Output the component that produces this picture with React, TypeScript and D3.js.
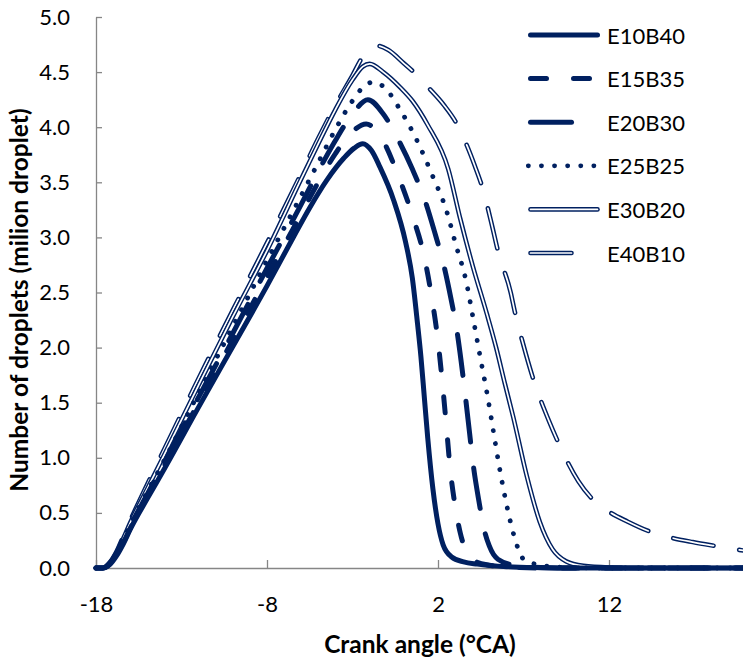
import React, { useEffect, useRef } from 'react';
import * as d3 from 'd3';

// crank angle ticks and droplet count ticks
const angleTicks = [-18, -8, 2, 12];
const dropletTicks = [0, 0.5, 1, 1.5, 2, 2.5, 3, 3.5, 4, 4.5, 5];
const seriesNames = ['E10B40', 'E15B35', 'E20B30', 'E25B25', 'E30B20', 'E40B10'];

// [crank angle, million droplets]
const e10b40: [number, number][] = [
  [-18, 0], [-17.6, 0], [-17.2, 0.03], [-16.8, 0.11], [-16.4, 0.22], [-16, 0.35], [-15, 0.63], [-14, 0.9],
  [-12, 1.46], [-10, 2.01], [-8, 2.56], [-6.5, 2.99], [-5.5, 3.27], [-4.5, 3.52], [-3.5, 3.72], [-2.9, 3.81],
  [-2.4, 3.85], [-1.9, 3.79], [-1.4, 3.64], [-0.6, 3.34], [0.1, 2.96], [0.5, 2.63], [0.8, 2.22], [1.0, 1.92],
  [1.2, 1.55], [1.4, 1.18], [1.7, 0.72], [2.0, 0.4], [2.3, 0.21], [2.8, 0.1], [3.5, 0.055], [4.3, 0.035],
  [6, 0.012], [8, 0.003], [10, 0], [20, 0],
];
const e15b35: [number, number][] = [
  [-18, 0], [-17.6, 0], [-17.2, 0.035], [-16.8, 0.12], [-16.4, 0.23], [-16, 0.36], [-15, 0.65], [-14, 0.93],
  [-12, 1.5], [-10, 2.07], [-8, 2.64], [-6.5, 3.07], [-5, 3.5], [-4, 3.76], [-3, 3.96], [-2.2, 4.03],
  [-1.3, 3.9], [-0.3, 3.55], [0.5, 3.2], [1.2, 2.82], [1.65, 2.44], [2.0, 2.06], [2.25, 1.69], [2.5, 1.27],
  [2.7, 0.92], [3.05, 0.52], [3.3, 0.32], [3.6, 0.17], [4.2, 0.06], [5, 0.025], [6, 0.01], [8, 0], [20, 0],
];
const e20b30: [number, number][] = [
  [-18, 0], [-17.6, 0], [-17.2, 0.04], [-16.8, 0.13], [-16.4, 0.25], [-16, 0.38], [-15, 0.67], [-14, 0.96],
  [-12, 1.55], [-10, 2.13], [-8, 2.72], [-6, 3.3], [-5, 3.6], [-4, 3.88], [-3, 4.12], [-2.1, 4.25],
  [-1.2, 4.12], [-0.3, 3.88], [0.5, 3.62], [1.25, 3.33], [1.8, 3.05], [2.35, 2.74], [2.75, 2.45], [3.1, 2.16],
  [3.35, 1.88], [3.6, 1.56], [3.85, 1.22], [4.05, 0.95], [4.4, 0.6], [4.7, 0.35], [5.0, 0.2], [5.5, 0.08],
  [6.5, 0.025], [8, 0.005], [10, 0], [20, 0],
];
const e25b25: [number, number][] = [
  [-18, 0], [-17.6, 0], [-17.2, 0.04], [-16.8, 0.13], [-16.4, 0.26], [-16, 0.39], [-15, 0.69], [-14, 0.98],
  [-12, 1.59], [-10, 2.19], [-8, 2.79], [-6, 3.38], [-5, 3.68], [-4, 3.98], [-3, 4.24], [-2.4, 4.36],
  [-1.8, 4.41], [-1, 4.34], [-0.3, 4.18], [0.8, 3.87], [1.65, 3.57], [2.5, 3.24], [3.05, 2.93], [3.65, 2.6],
  [4.05, 2.27], [4.45, 1.93], [4.85, 1.6], [5.2, 1.28], [5.55, 0.95], [5.95, 0.62], [6.25, 0.41], [6.45, 0.29],
  [6.7, 0.17], [7.0, 0.08], [7.7, 0.035], [9, 0.01], [11, 0], [20, 0],
];
const e30b20: [number, number][] = [
  [-18, 0], [-17.6, 0], [-17.2, 0.045], [-16.8, 0.14], [-16.4, 0.27], [-16, 0.41], [-15, 0.72], [-14, 1.03],
  [-12, 1.66], [-10, 2.28], [-8, 2.88], [-6, 3.53], [-5, 3.85], [-4, 4.16], [-3, 4.43], [-2.4, 4.55],
  [-2, 4.575], [-1.2, 4.5], [-0.2, 4.36], [0.5, 4.24], [1.4, 4.02], [2.6, 3.62], [3.3, 3.17], [4.05, 2.73],
  [4.85, 2.31], [5.4, 2.0], [5.9, 1.68], [6.4, 1.37], [7.2, 0.83], [7.95, 0.42], [8.7, 0.17], [9.5, 0.06],
  [10.5, 0.02], [12, 0.005], [14, 0], [20, 0],
];
const e40b10: [number, number][] = [
  [-18, 0], [-17.6, 0], [-17.2, 0.05], [-16.8, 0.15], [-16.4, 0.29], [-16, 0.43], [-15, 0.76], [-14, 1.08],
  [-12, 1.72], [-10, 2.34], [-8, 2.95], [-6, 3.58], [-5, 3.9], [-4, 4.2], [-3, 4.47], [-2.4, 4.64],
  [-1.6, 4.74], [-0.9, 4.7], [0, 4.58], [0.65, 4.49], [1.5, 4.35], [2.35, 4.2], [3.1, 4.03], [3.7, 3.83],
  [4.15, 3.65], [4.6, 3.45], [5.2, 3.08], [5.5, 2.88], [6.25, 2.5], [6.5, 2.32], [7, 2.02], [7.5, 1.75],
  [8.5, 1.33], [9, 1.15], [10.2, 0.79], [11, 0.63], [12, 0.51], [13.1, 0.42], [14.4, 0.33], [15.5, 0.28],
  [16.9, 0.235], [18.2, 0.2], [20, 0.155],
];

const seriesData = [e10b40, e15b35, e20b30, e25b25, e30b20, e40b10];

const navy = '#002060';
const styles = [
  { width: 5, dash: null, double: false, legendStart: 530.5 },
  { width: 5, dash: '16 27', double: false, legendStart: 530.5 },
  { width: 5, dash: '41 26', double: false, legendStart: 530.5 },
  { width: 4.8, dash: '0.1 13', double: false, legendStart: 528.3 },
  { width: 4.6, dash: null, double: true, legendStart: 530.5 },
  { width: 4.6, dash: '41 26', double: true, legendStart: 530.5 },
];

export default function App() {
  const ref = useRef<SVGSVGElement>(null);

  useEffect(() => {
    const svg = d3.select(ref.current);
    svg.selectAll('*').remove();
    const font = 'Lato, Carlito, Calibri, sans-serif';

    const x = d3.scaleLinear().domain([-18, 20]).range([96, 745.8]);
    const y = d3.scaleLinear().domain([0, 5]).range([568, 17]);

    // axes
    const yAxis = d3.axisLeft(y).tickValues(dropletTicks).tickFormat(d3.format('.1f'))
      .tickSizeInner(-6).tickSizeOuter(0).tickPadding(26);
    const gy = svg.append('g').attr('transform', 'translate(96,0)').call(yAxis);
    gy.selectAll('path, line').attr('stroke', '#868686').attr('stroke-width', 1.3);
    gy.selectAll('text').attr('font-family', font).attr('font-size', 22).attr('fill', '#000');

    const xAxis = d3.axisBottom(x).tickValues(angleTicks).tickFormat(d => String(d))
      .tickSizeInner(-8).tickSizeOuter(0).tickPadding(28);
    const gx = svg.append('g').attr('transform', 'translate(0,568)').call(xAxis);
    gx.selectAll('path, line').attr('stroke', '#868686').attr('stroke-width', 1.3);
    gx.selectAll('text').attr('font-family', font).attr('font-size', 22).attr('fill', '#000');

    // series lines, last series drawn first
    const line = d3.line<[number, number]>()
      .x(d => x(d[0]))
      .y(d => y(d[1]))
      .curve(d3.curveMonotoneX);

    const drawPath = (g: any, dAttr: string, s: any) => {
      const p = g.append('path')
        .attr('d', dAttr)
        .attr('fill', 'none')
        .attr('stroke', navy)
        .attr('stroke-width', s.width)
        .attr('stroke-linecap', 'round')
        .attr('stroke-linejoin', 'round');
      if (s.dash) p.attr('stroke-dasharray', s.dash);
      if (s.double) {
        const inner = g.append('path')
          .attr('d', dAttr)
          .attr('fill', 'none')
          .attr('stroke', '#fff')
          .attr('stroke-width', 1.7)
          .attr('stroke-linecap', 'round')
          .attr('stroke-linejoin', 'round');
        if (s.dash) inner.attr('stroke-dasharray', s.dash);
      }
    };

    const plot = svg.append('g');
    for (let i = seriesData.length - 1; i >= 0; i--) {
      drawPath(plot, line(seriesData[i]) as string, styles[i]);
    }

    // legend
    const legend = svg.append('g');
    seriesNames.forEach((name, i) => {
      const ly = 35 + i * 43.6;
      drawPath(legend, `M${styles[i].legendStart},${ly}H597.5`, styles[i]);
      legend.append('text')
        .attr('x', 607)
        .attr('y', ly)
        .attr('dominant-baseline', 'central')
        .attr('font-family', font)
        .attr('font-size', 22)
        .attr('fill', '#000')
        .text(name);
    });

    // axis titles
    svg.append('text')
      .attr('x', 420)
      .attr('y', 643)
      .attr('text-anchor', 'middle')
      .attr('dominant-baseline', 'central')
      .attr('font-family', font)
      .attr('font-size', 24.5)
      .attr('font-weight', 'bold')
      .attr('fill', '#000')
      .text('Crank angle (°CA)');

    svg.append('text')
      .attr('transform', 'translate(18,300) rotate(-90)')
      .attr('text-anchor', 'middle')
      .attr('dominant-baseline', 'central')
      .attr('font-family', font)
      .attr('font-size', 24.5)
      .attr('font-weight', 'bold')
      .attr('fill', '#000')
      .text('Number of droplets (milion droplet)');
  }, []);

  return (
    <svg
      ref={ref}
      width={743}
      height={657}
      style={{ position: 'absolute', left: 0, top: 0, background: '#fff', overflow: 'hidden' }}
    />
  );
}
